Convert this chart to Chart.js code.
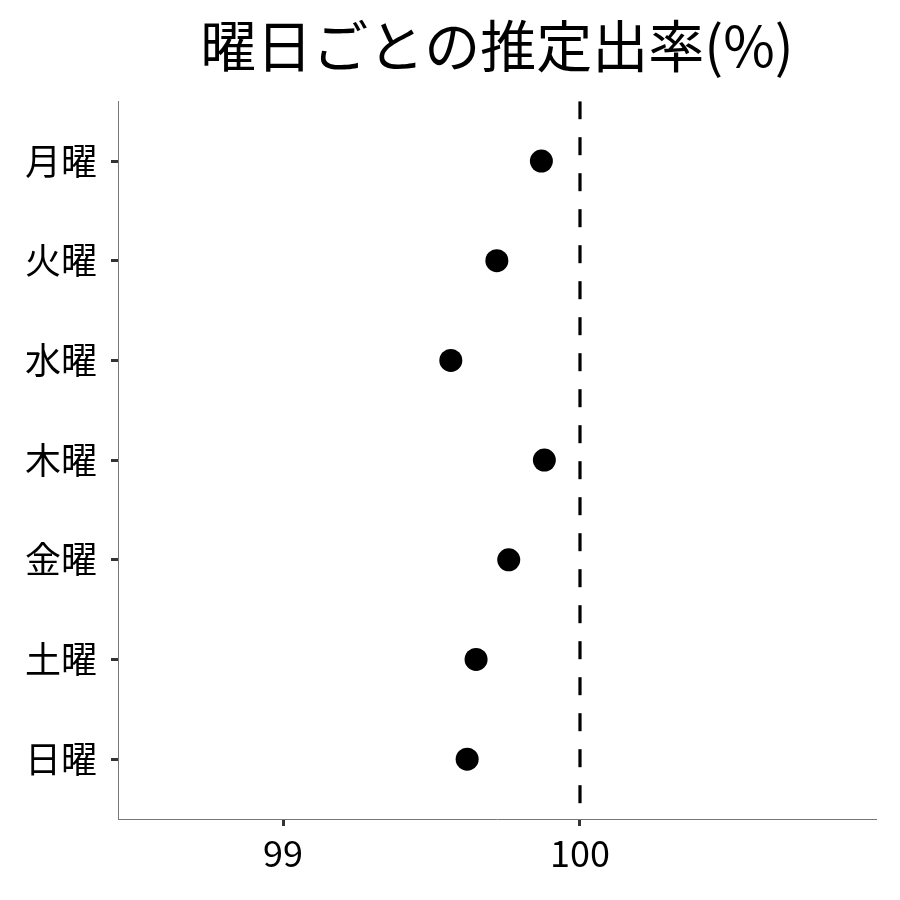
<!DOCTYPE html>
<html>
<head>
<meta charset="utf-8">
<script src="https://cdn.jsdelivr.net/npm/chart.js@4"></script>
<style>
  html, body { margin: 0; padding: 0; background: #fff; }
  #wrap { width: 900px; height: 900px; }
</style>
</head>
<body>
<div id="wrap"><canvas id="dotChart" width="900" height="900"></canvas></div>
<script>
// data
const dayLabels = ['月曜', '火曜', '水曜', '木曜', '金曜', '土曜', '日曜'];
const rateValues = [99.87, 99.72, 99.565, 99.88, 99.76, 99.65, 99.62];
const xTicks = [99, 100];
const refLine = 100;
const xRange = [98.444, 100.997];

const fontFamily = "'Noto Sans CJK JP', 'Noto Sans', sans-serif";

const points = rateValues.map((v, i) => ({ x: v, y: i }));
const lineData = [{ x: refLine, y: -0.6 }, { x: refLine, y: dayLabels.length - 0.4 }];

const ctx = document.getElementById('dotChart').getContext('2d');
const chart = new Chart(ctx, {
    type: 'scatter',
    data: {
        datasets: [
            {
                data: lineData,
                showLine: true,
                borderColor: '#000',
                borderWidth: 3.2,
                borderDash: [18, 18],
                pointRadius: 0,
                pointHoverRadius: 0
            },
            {
                data: points,
                backgroundColor: '#000',
                borderWidth: 0,
                pointRadius: 11.5,
                pointHoverRadius: 11.5
            }
        ]
    },
    options: {
        responsive: false,
        animation: false,
        layout: { padding: { left: 0, right: 24, top: 0, bottom: 0 } },
        plugins: {
            legend: { display: false },
            tooltip: { enabled: false },
            title: {
                display: true,
                fullSize: false,
                text: '曜日ごとの推定出率(%)',
                color: '#000',
                font: { family: fontFamily, size: 56, weight: 'normal' },
                padding: { top: 12, bottom: 22 }
            }
        },
        scales: {
            x: {
                type: 'linear',
                min: xRange[0],
                max: xRange[1],
                afterBuildTicks: axis => { axis.ticks = xTicks.map(v => ({ value: v })); },
                afterFit: axis => { axis.height = 81; },
                grid: {
                    drawOnChartArea: false,
                    drawTicks: true,
                    tickLength: 7,
                    tickColor: '#333',
                    tickWidth: 3
                },
                border: { display: true, color: '#777', width: 1 },
                ticks: {
                    color: '#000',
                    padding: 6,
                    font: { family: fontFamily, size: 36 }
                }
            },
            y: {
                type: 'linear',
                reverse: true,
                min: -0.6,
                max: dayLabels.length - 0.4,
                afterBuildTicks: axis => { axis.ticks = dayLabels.map((d, i) => ({ value: i })); },
                afterFit: axis => { axis.width = 118; },
                grid: {
                    drawOnChartArea: false,
                    drawTicks: true,
                    tickLength: 7,
                    tickColor: '#333',
                    tickWidth: 3
                },
                border: { display: true, color: '#777', width: 1 },
                ticks: {
                    color: '#000',
                    padding: 14,
                    font: { family: fontFamily, size: 36 },
                    callback: value => dayLabels[value]
                }
            }
        }
    }
});
</script>
</body>
</html>
